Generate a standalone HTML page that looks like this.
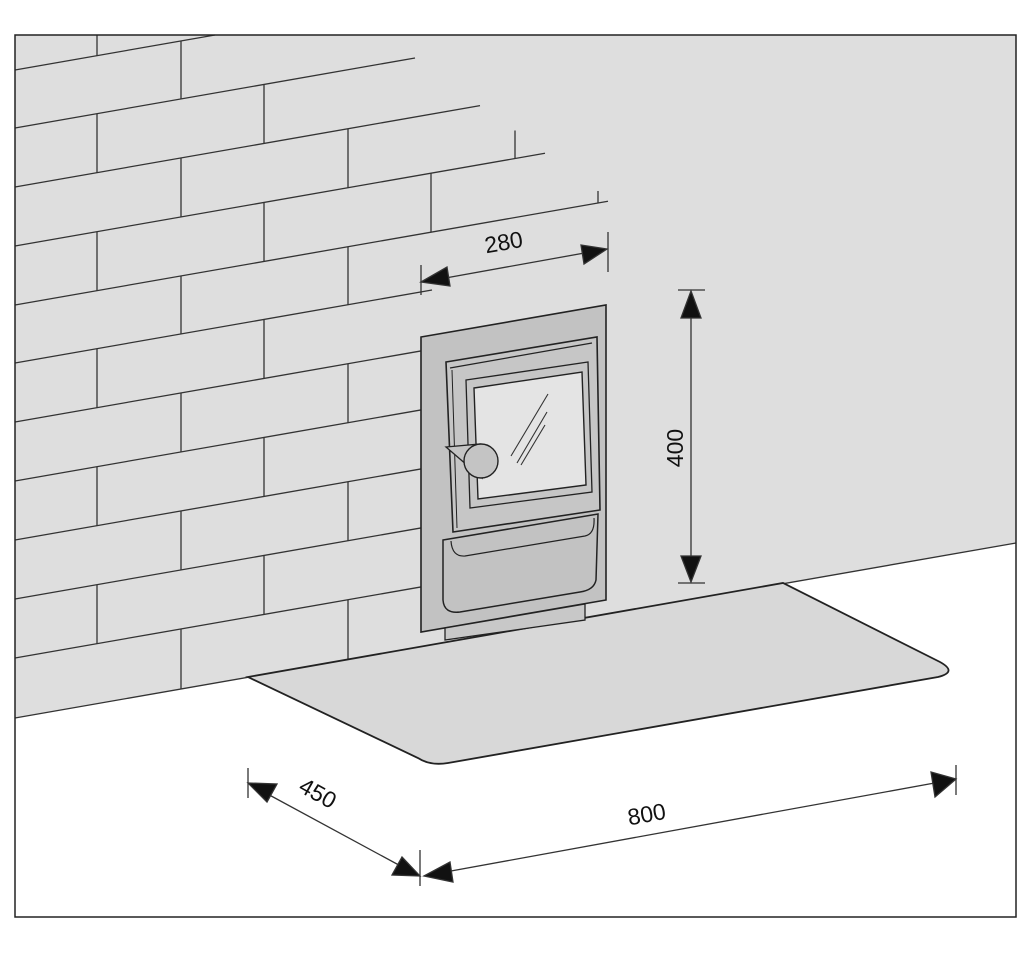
<!DOCTYPE html>
<html><head><meta charset="utf-8"><style>
html,body{margin:0;padding:0;background:#fff}
svg{display:block}
text{font-family:"Liberation Sans",sans-serif;font-size:23px;fill:#111}
</style></head><body>
<svg id="s" width="1024" height="963" viewBox="0 0 1024 963" xmlns="http://www.w3.org/2000/svg">
<rect x="15" y="35" width="1001" height="882" fill="#fff"/>
<polygon points="15,35 1016,35 1016,543 15,718" fill="#dedede"/>
<line x1="15" y1="718" x2="1016" y2="543" stroke="#333" stroke-width="1.3"/>
<g id="bricks" stroke="#333" stroke-width="1.3" fill="none"></g>
<path d="M248,677 L783,583 L940,662 Q958,672 938,677 L448,763 Q430,766 418,758 Z" fill="#d8d8d8" stroke="#222" stroke-width="1.8"/>
<polygon points="421,337 606,305 606,600 421,632" fill="#c2c2c2" stroke="#222" stroke-width="1.6"/>
<polygon points="445,628 585,604 585,620 445,640" fill="#c8c8c8" stroke="#222" stroke-width="1.3"/>
<polygon points="446,362 597,337 600,510 453,532" fill="#c6c6c6" stroke="#222" stroke-width="1.6"/>
<polyline points="450,368 592,343" stroke="#222" stroke-width="1.2" fill="none"/>
<line x1="452" y1="370" x2="457" y2="528" stroke="#222" stroke-width="1"/>
<polygon points="466,380 588,362 592,492 470,508" fill="#c6c6c6" stroke="#222" stroke-width="1.3"/>
<polygon points="474,388 582,372 586,485 478,499" fill="#e4e4e4" stroke="#222" stroke-width="1.4"/>
<line x1="511" y1="456" x2="548" y2="394" stroke="#333" stroke-width="1.1"/>
<line x1="517" y1="463" x2="547" y2="412" stroke="#333" stroke-width="1.1"/>
<line x1="521" y1="465" x2="545" y2="425" stroke="#333" stroke-width="1.1"/>
<polygon points="446,447 480,444 482,478" fill="#c4c4c4" stroke="#222" stroke-width="1.3"/>
<circle cx="481" cy="461" r="17" fill="#c4c4c4" stroke="#222" stroke-width="1.4"/>
<path d="M443,540 L598,514 L596,580 Q594,590 580,592 L460,612 Q444,614 443,600 Z" fill="#c2c2c2" stroke="#222" stroke-width="1.5"/>
<path d="M451,541 Q452,557 465,556 L585,536 Q595,534 594,518" fill="none" stroke="#222" stroke-width="1.2"/>
<g stroke="#333" stroke-width="1.3" fill="#111">
<line x1="421" y1="265" x2="421" y2="295"/>
<line x1="608" y1="232" x2="608" y2="272"/>
<line x1="440" y1="279" x2="590" y2="252"/>
<polygon points="421,282 447,267 450,286"/>
<polygon points="607,249 581,245 584,264"/>
<line x1="678" y1="290" x2="705" y2="290"/>
<line x1="678" y1="583" x2="705" y2="583"/>
<line x1="691" y1="305" x2="691" y2="568"/>
<polygon points="691,291 681,318 701,318"/>
<polygon points="691,582 681,556 701,556"/>
<line x1="248" y1="768" x2="248" y2="798"/>
<line x1="420" y1="850" x2="420" y2="886"/>
<line x1="262" y1="791" x2="408" y2="870"/>
<polygon points="248,783 277,784 267,802"/>
<polygon points="420,876 392,875 402,857"/>
<line x1="956" y1="765" x2="956" y2="795"/>
<line x1="440" y1="873" x2="940" y2="782"/>
<polygon points="424,876 450,862 453,882"/>
<polygon points="956,779 931,772 935,797"/>
</g>
<text transform="translate(505,250) rotate(-10)" text-anchor="middle">280</text>
<text transform="translate(683,448) rotate(-90)" text-anchor="middle">400</text>
<text transform="translate(314,800) rotate(29)" text-anchor="middle">450</text>
<text transform="translate(648,822) rotate(-10)" text-anchor="middle">800</text>
<rect x="15" y="35" width="1001" height="882" fill="none" stroke="#222" stroke-width="1.5"/>
</svg>
<script>
var g=document.getElementById('bricks'),ns='http://www.w3.org/2000/svg',k=-0.175;
function L(a,b,c,d){var l=document.createElementNS(ns,'line');l.setAttribute('x1',a);l.setAttribute('y1',b);l.setAttribute('x2',c);l.setAttribute('y2',d);g.appendChild(l);}
var ends={70:215,128:415,187:480,246:545,305:608};
function endX(y0){if(ends[y0])return ends[y0];return y0<=363?432:421;}
var ys=[11,70,128,187,246,305,363,422,481,540,599,658,718];
for(var i=1;i<ys.length-1;i++){var y=ys[i],e=endX(y);L(15,y,e,y+k*(e-15));}
function yAt(y0,x){return y0+k*(x-15);}
for(var r=1;r<ys.length;r++){
 var lo=ys[r],up=ys[r-1];
 var set=(r%2==1)?[97,264,431,598]:[181,348,515];
 set.forEach(function(x){
  if(x>=421 && lo>=363) return;
  var yb=yAt(lo,x); if(r<ys.length-1 && x>endX(lo)) return;
  var yt;
  if(r-1>=1 && x<=endX(up)) yt=yAt(up,x); else if(r-1==0) yt=Math.max(35,yAt(up,x)); else { if(x<500) return; yt=yb-(x>560?12:28);}
  if(yt<35) yt=35; if(yb<35) return;
  L(x,yt,x,yb);
 });
}
</script>
</body></html>
